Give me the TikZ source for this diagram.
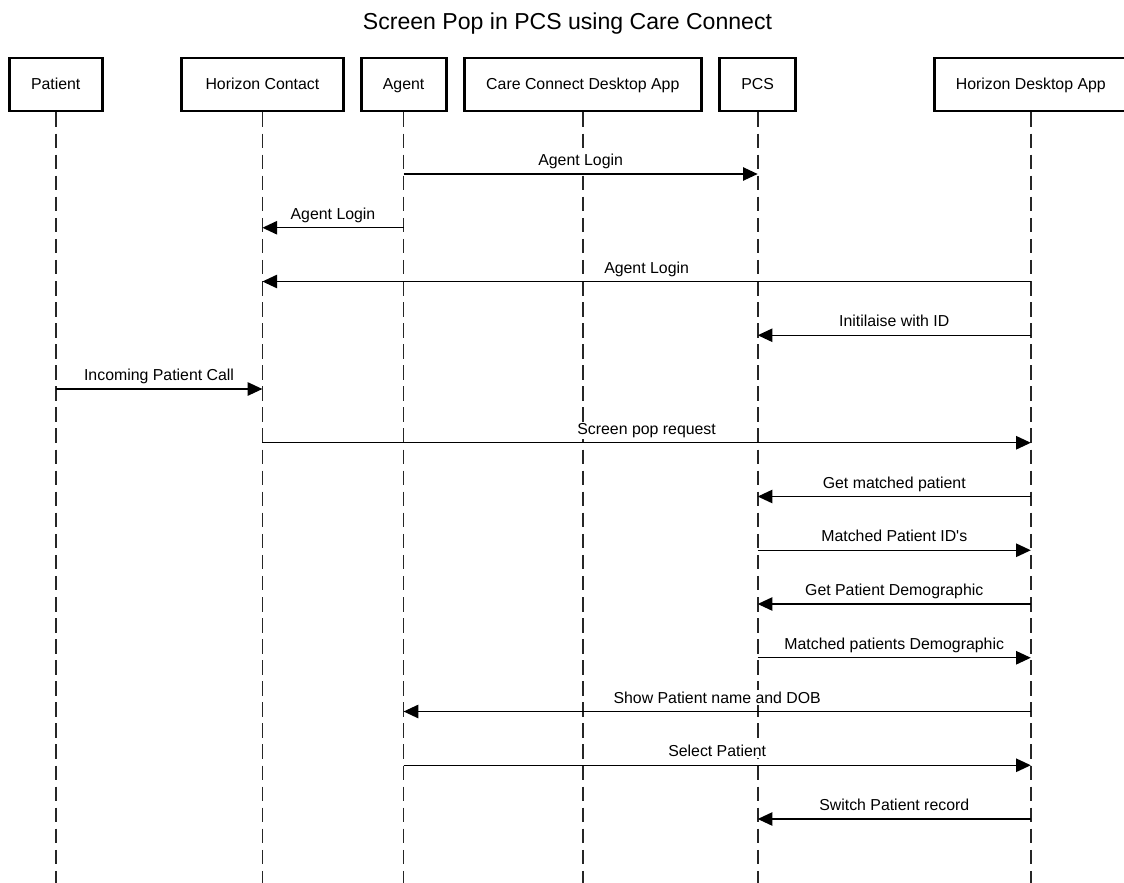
\documentclass[tikz,border=0pt]{standalone}
\usepackage{fontspec}
\setmainfont{Liberation Sans}
\usetikzlibrary{arrows.meta}
\tikzset{
  actor/.style={draw=black, line width=2.2pt, fill=white, inner sep=0pt,
    minimum height=39.75pt, text height=0.8em, text depth=0pt,
    font=\fontsize{11.9pt}{14pt}\selectfont},
  lifeline/.style={draw=black!85, line width=1.2pt, dash pattern=on 10.9pt off 4.9pt},
  msg/.style={draw=black, line width=1.1pt, -{Triangle[length=11pt,width=10pt]}},
  lbl/.style={anchor=base, yshift=6.2pt, inner xsep=1pt, inner ysep=1pt, fill=white,
    font=\fontsize{11.9pt}{14pt}\selectfont},
}
\begin{document}
\begin{tikzpicture}[x=0.75pt, y=-0.75pt]
\useasboundingbox (0,0) rectangle (1124,882);
\clip (0,0) rectangle (1124,882);
\node[anchor=base, font=\fontsize{17.3pt}{20pt}\selectfont] (title) at (567.5,29.3) {Screen Pop in PCS using Care Connect};
% actors
\node[actor, minimum width=69.75pt]  (p)   at (55.7,84.5)  {Patient};
\node[actor, minimum width=121.95pt] (hc)  at (262.4,84.5) {Horizon Contact};
\node[actor, minimum width=63.75pt]  (ag)  at (403.6,84.5) {Agent};
\node[actor, minimum width=177.75pt] (cc)  at (582.8,84.5) {Care Connect Desktop App};
\node[actor, minimum width=56.7pt]   (pcs) at (757.7,84.5) {PCS};
\node[actor, minimum width=144.75pt] (hd)  at (1030.8,84.5) {Horizon Desktop App};
% lifelines
\coordinate (bot) at (0,884);
\foreach \n in {p,hc,ag,cc,pcs,hd}{
  \draw[lifeline] (\n.south) -- (\n.south |- bot);
}
% message rows
\foreach \k in {1,...,13}{
  \coordinate (r\k) at (0,{174+53.75*(\k-1)});
}
\draw[msg] (ag |- r1) -- node[lbl]{Agent Login} (pcs |- r1);
\draw[msg] (ag |- r2) -- node[lbl]{Agent Login} (hc |- r2);
\draw[msg] (hd |- r3) -- node[lbl]{Agent Login} (hc |- r3);
\draw[msg] (hd |- r4) -- node[lbl]{Initilaise with ID} (pcs |- r4);
\draw[msg] (p |- r5) -- node[lbl]{Incoming Patient Call} (hc |- r5);
\draw[msg] (hc |- r6) -- node[lbl]{Screen pop request} (hd |- r6);
\draw[msg] (hd |- r7) -- node[lbl]{Get matched patient} (pcs |- r7);
\draw[msg] (pcs |- r8) -- node[lbl]{Matched Patient ID\textquotesingle s} (hd |- r8);
\draw[msg] (hd |- r9) -- node[lbl]{Get Patient Demographic} (pcs |- r9);
\draw[msg] (pcs |- r10) -- node[lbl]{Matched patients Demographic} (hd |- r10);
\draw[msg] (hd |- r11) -- node[lbl]{Show Patient name and DOB} (ag |- r11);
\draw[msg] (ag |- r12) -- node[lbl]{Select Patient} (hd |- r12);
\draw[msg] (hd |- r13) -- node[lbl]{Switch Patient record} (pcs |- r13);
\end{tikzpicture}
\end{document}
